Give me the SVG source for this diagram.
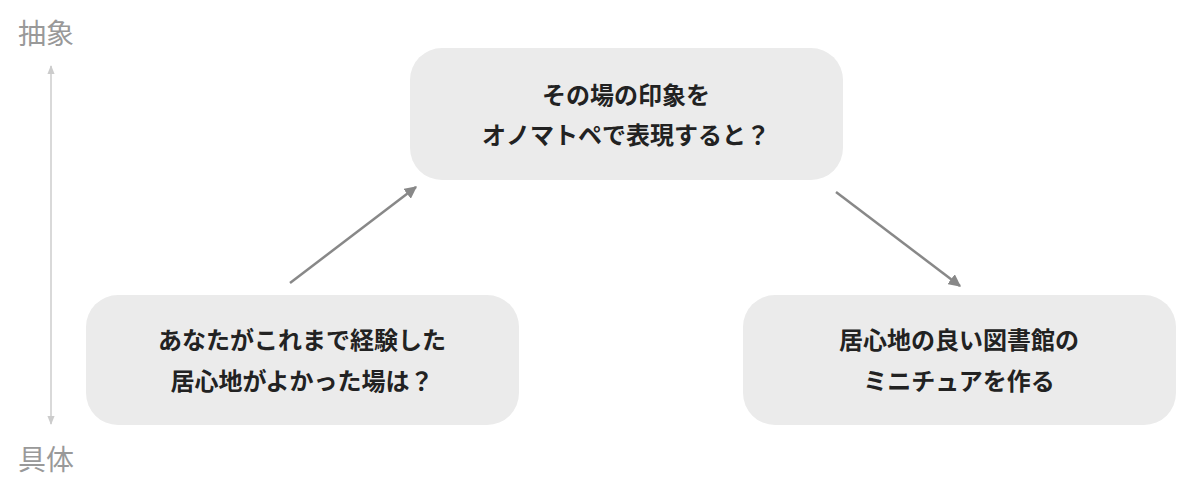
<svg xmlns="http://www.w3.org/2000/svg" width="1200" height="482" viewBox="0 0 1200 482">
<style>
.box{fill:#ebebeb}
.t{font-family:"Noto Sans CJK JP","Noto Sans",sans-serif;font-weight:bold;font-size:24px;fill:#222;text-anchor:middle}
.ax{font-family:"Noto Sans CJK JP","Noto Sans",sans-serif;font-size:28px;fill:#999}
.c{stroke:#888;stroke-width:2.5;fill:none}
</style>
<defs>
<marker id="ah" viewBox="0 0 10 10" refX="9" refY="5" markerWidth="5" markerHeight="5" orient="auto"><path d="M0,0L10,5L0,10z" fill="#888"/></marker>
<marker id="axh" viewBox="0 0 10 10" refX="9" refY="5" markerWidth="6" markerHeight="6" orient="auto-start-reverse"><path d="M0,1L10,5L0,9z" fill="#ccc"/></marker>
</defs>
<g id="axis">
<line x1="51" y1="66" x2="51" y2="424" stroke="#ccc" stroke-width="1.5" marker-start="url(#axh)" marker-end="url(#axh)"/>
<text class="ax" x="18" y="44">抽象</text>
<text class="ax" x="18" y="470">具体</text>
</g>
<g id="connectors">
<line class="c" x1="290" y1="283" x2="416" y2="187" marker-end="url(#ah)"/>
<line class="c" x1="836" y1="192" x2="960" y2="286" marker-end="url(#ah)"/>
</g>
<g id="top"><rect class="box" x="410" y="48" width="433" height="132" rx="32"/>
<text class="t" x="626" y="104">その場の印象を</text><text class="t" x="626" y="144">オノマトペで表現すると？</text></g>
<g id="left"><rect class="box" x="86" y="295" width="433" height="130" rx="32"/>
<text class="t" x="302" y="349">あなたがこれまで経験した</text><text class="t" x="302" y="390">居心地がよかった場は？</text></g>
<g id="right"><rect class="box" x="743" y="295" width="433" height="130" rx="32"/>
<text class="t" x="959" y="349">居心地の良い図書館の</text><text class="t" x="959" y="390">ミニチュアを作る</text></g>
</svg>
